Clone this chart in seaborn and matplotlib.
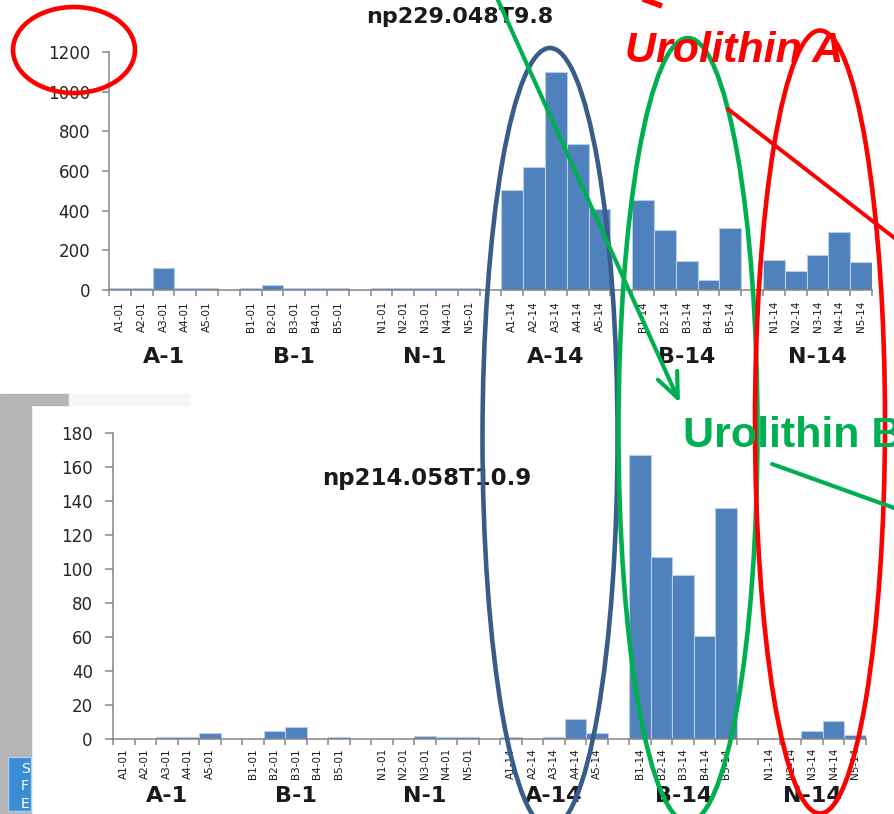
import numpy as np
import pandas as pd
import matplotlib
matplotlib.use("Agg")
import matplotlib.pyplot as plt
from matplotlib.patches import Ellipse, Rectangle, FancyArrowPatch
from matplotlib.lines import Line2D
from matplotlib.transforms import Bbox, TransformedBbox
import seaborn as sns

W, H = 895, 814

# sample groups: treatment letter + sampling day
groups = ["A-1", "B-1", "N-1", "A-14", "B-14", "N-14"]
group_letter = ["A", "B", "N", "A", "B", "N"]
group_day = ["01", "01", "01", "14", "14", "14"]
replicates = [1, 2, 3, 4, 5]

# np229.048T9.8 (urolithin A) peak areas, one list per group
top_a1 = [10, 10, 110, 10, 10]
top_b1 = [12, 25, 12, 12, 12]
top_n1 = [10, 10, 10, 10, 10]
top_a14 = [505, 620, 1100, 738, 410]
top_b14 = [455, 305, 145, 50, 315]
top_n14 = [152, 96, 174, 292, 143]

# np214.058T10.9 (urolithin B) peak areas
bot_a1 = [0, 0, 1, 1, 3.5]
bot_b1 = [0, 4.5, 7, 0, 1]
bot_n1 = [0, 0, 2, 1, 1]
bot_a14 = [1, 0, 1, 11.5, 3.5]
bot_b14 = [167, 107, 96.5, 60.5, 136]
bot_n14 = [0, 0, 4.5, 10.5, 2.5]

top_ticks = [0, 200, 400, 600, 800, 1000, 1200]
bot_ticks = [0, 20, 40, 60, 80, 100, 120, 140, 160, 180]

top_title = "np229.048T9.8"
bot_title = "np214.058T10.9"

BAR = "#4F81BD"
EDGE = "#b9cde5"
SPINE = "#868686"

sns.set_style("ticks")
plt.rcParams["font.family"] = ["DejaVu Sans"]


def build_frame(series):
    """Lay the samples out group by group with one empty slot between groups."""
    rows, order = [], []
    for gi, vals in enumerate(series):
        for r, v in zip(replicates, vals):
            name = f"{group_letter[gi]}{r}-{group_day[gi]}"
            rows.append((name, v))
            order.append(name)
        if gi < len(series) - 1:
            gap = f"gap{gi}"
            rows.append((gap, np.nan))
            order.append(gap)
    return pd.DataFrame(rows, columns=["sample", "area"]), order


def fig_box(x0, y0, x1, y1):
    return [x0 / W, 1 - y1 / H, (x1 - x0) / W, (y1 - y0) / H]


def draw_panel(ax, series, yticks, ymax, tick_len, label_pad, group_base):
    df, order = build_frame(series)
    sns.barplot(data=df, x="sample", y="area", order=order, color=BAR,
                saturation=1, width=1.0, edgecolor=EDGE, linewidth=0.8,
                errorbar=None, ax=ax)
    n = len(order)
    ax.set_xlim(-0.5, n - 0.5)
    ax.set_ylim(0, ymax)
    ax.set_xlabel("")
    ax.set_ylabel("")
    ax.set_facecolor("white")

    # tick marks on category boundaries, sample names at centres
    ax.set_xticks(np.arange(-0.5, n, 1.0))
    ax.set_xticklabels([])
    pos = [i for i, s in enumerate(order) if not s.startswith("gap")]
    ax.set_xticks(pos, minor=True)
    ax.set_xticklabels([order[i] for i in pos], minor=True, rotation=90,
                       fontsize=7.5, color="#1a1a1a")
    ax.tick_params(axis="x", which="major", length=4, width=1.1, color=SPINE,
                   direction="out")
    ax.tick_params(axis="x", which="minor", length=0, pad=label_pad)

    ax.set_yticks(yticks)
    ax.set_yticklabels([str(t) for t in yticks])
    ax.tick_params(axis="y", length=tick_len, width=1.1, color=SPINE,
                   direction="out", pad=8.5, labelsize=12, labelcolor="#262626")

    for side in ("top", "right"):
        ax.spines[side].set_visible(False)
    for side in ("left", "bottom"):
        ax.spines[side].set_color(SPINE)
        ax.spines[side].set_linewidth(1.1)

    for gi, g in enumerate(groups):
        ax.text(gi * 6 + 2, group_base, g, transform=ax.get_xaxis_transform(),
                ha="center", va="baseline", fontsize=16, fontweight="bold",
                color="#1a1a1a")


fig = plt.figure(figsize=(W / 100, H / 100), dpi=100)
fig.patch.set_facecolor("white")

# grey backdrop to the left of the lower panel, with the small blue tab
fig.add_artist(Rectangle((0, 1 - 405 / H), 69 / W, 11 / H,
                         transform=fig.transFigure, color="#b4b5b4", zorder=-5))
fig.add_artist(Rectangle((69 / W, 1 - 405 / H), 121 / W, 11 / H,
                         transform=fig.transFigure, color="#f6f6f6", zorder=-5))
fig.add_artist(Rectangle((0, 0), 31 / W, 1 - 405 / H,
                         transform=fig.transFigure, color="#b4b5b4", zorder=-5))
tab = Rectangle((8 / W, 1 - 811 / H), 23 / W, 54 / H, transform=fig.transFigure,
                facecolor="#3b8dd3", edgecolor="#a9d0f0", lw=1.0, zorder=-4)
fig.add_artist(tab)
tab_clip = TransformedBbox(Bbox([[8 / W, 1 - 811 / H], [31 / W, 1 - 757 / H]]),
                           fig.transFigure)
for letter, ly in zip(["S", "F", "E"], [773, 790, 808]):
    t = fig.text(21 / W, 1 - ly / H, letter, color="white", fontsize=10,
                 ha="left", va="baseline", zorder=-3)
    t.set_clip_box(tab_clip)

ax_top = fig.add_axes(fig_box(109, 52, 872, 290))
draw_panel(ax_top, [top_a1, top_b1, top_n1, top_a14, top_b14, top_n14],
           top_ticks, 1200, 5, 8, -(363 - 290) / (290 - 52))

ax_bot = fig.add_axes(fig_box(113, 433, 866, 739))
draw_panel(ax_bot, [bot_a1, bot_b1, bot_n1, bot_a14, bot_b14, bot_n14],
           bot_ticks, 180, 6, 6.5, -(802 - 739) / (739 - 433))

fig.text(460 / W, 1 - 23 / H, top_title, ha="center", va="baseline",
         fontsize=16, fontweight="bold", color="#1a1a1a")
fig.text(322 / W, 1 - 485 / H, bot_title, ha="left", va="baseline",
         fontsize=16.5, fontweight="bold", color="#1a1a1a")

# highlight ellipses
rings = [
    ((74, 50), 122, 86, "#FF0000"),
    ((550, 438), 135, 780, "#385D8A"),
    ((688, 430), 139, 784, "#00B050"),
    ((820, 422), 130, 783, "#FF0000"),
]
for (cx, cy), w, h, c in rings:
    fig.add_artist(Ellipse((cx / W, 1 - cy / H), w / W, h / H,
                           transform=fig.transFigure, fill=False, ec=c,
                           lw=3.3, zorder=10))

# callout lines
fig.add_artist(FancyArrowPatch((497 / W, 1 + 2 / H), (680 / W, 1 - 403 / H),
                               transform=fig.transFigure,
                               arrowstyle="->,head_length=0.9,head_width=0.38",
                               mutation_scale=20, color="#00B050", lw=3.0,
                               shrinkA=0, shrinkB=0, zorder=11))
fig.add_artist(Line2D([728 / W, 897 / W], [1 - 109 / H, 1 - 240 / H],
                      transform=fig.transFigure, color="#FF0000", lw=2.8,
                      zorder=11))
fig.add_artist(Line2D([640 / W, 662 / W], [1 + 2 / H, 1 - 6 / H],
                      transform=fig.transFigure, color="#FF0000", lw=4,
                      solid_capstyle="butt", zorder=11))
fig.add_artist(Line2D([772 / W, 897 / W], [1 - 464 / H, 1 - 509 / H],
                      transform=fig.transFigure, color="#00B050", lw=3.0,
                      zorder=11))

fig.text(625 / W, 1 - 62 / H, "Urolithin A", ha="left", va="baseline",
         fontsize=31, fontweight="bold", fontstyle="italic", color="#FF0000",
         family=["Liberation Sans", "DejaVu Sans"], zorder=12)
fig.text(683 / W, 1 - 447 / H, "Urolithin B", ha="left", va="baseline",
         fontsize=31, fontweight="bold", color="#00B050",
         family=["Liberation Sans", "DejaVu Sans"], zorder=12)

fig.savefig("out.png", dpi=100, facecolor="white")
